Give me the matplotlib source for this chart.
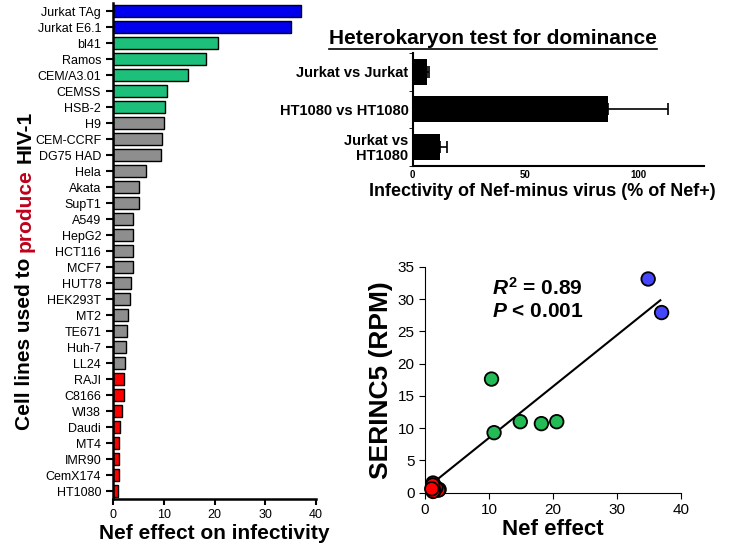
import matplotlib
matplotlib.use("Agg")
import matplotlib.pyplot as plt
from matplotlib.lines import Line2D

plt.rcParams['font.family'] = ['Liberation Sans', 'DejaVu Sans']
plt.rcParams['mathtext.fontset'] = 'custom'
plt.rcParams['mathtext.it'] = 'Liberation Sans:bold:italic'
plt.rcParams['mathtext.rm'] = 'Liberation Sans:bold'
plt.rcParams['mathtext.bf'] = 'Liberation Sans:bold'

# --- data: Nef effect per producer cell line ---
cell_lines = ['Jurkat TAg', 'Jurkat E6.1', 'bl41', 'Ramos', 'CEM/A3.01', 'CEMSS', 'HSB-2',
              'H9', 'CEM-CCRF', 'DG75 HAD', 'Hela', 'Akata', 'SupT1', 'A549', 'HepG2',
              'HCT116', 'MCF7', 'HUT78', 'HEK293T', 'MT2', 'TE671', 'Huh-7', 'LL24',
              'RAJI', 'C8166', 'WI38', 'Daudi', 'MT4', 'IMR90', 'CemX174', 'HT1080']
nef_effect = [37.0, 35.1, 20.6, 18.3, 14.8, 10.7, 10.2,
              10.0, 9.7, 9.4, 6.6, 5.1, 5.1, 4.0, 4.0,
              3.95, 3.9, 3.6, 3.4, 2.9, 2.7, 2.6, 2.4,
              2.2, 2.1, 1.7, 1.4, 1.25, 1.25, 1.2, 1.05]
groups = ['blue'] * 2 + ['green'] * 5 + ['grey'] * 16 + ['red'] * 8

# --- heterokaryon test ---
hk_labels = ['Jurkat vs Jurkat', 'HT1080 vs HT1080', 'Jurkat vs\nHT1080']
hk_values = [6.2, 86.7, 12.1]
hk_err = [1.0, 26.6, 3.0]

# --- scatter: Nef effect vs SERINC5 ---
sc_x = [34.9, 37.0, 10.4, 10.8, 14.9, 18.2, 20.6, 2.2, 2.1, 1.7, 1.4, 1.25, 1.25, 1.2, 1.05]
sc_y = [33.1, 27.9, 17.6, 9.3, 11.0, 10.7, 11.0, 0.5, 0.4, 0.8, 0.3, 1.5, 0.2, 1.2, 0.6]
sc_groups = ['blue'] * 2 + ['green'] * 5 + ['red'] * 8
fit_x = [1.15, 36.8]
fit_y = [1.45, 29.8]

bar_colors = {'blue': '#0000ee', 'green': '#1dc07a', 'grey': '#8e8e8e', 'red': '#ff0000'}
dot_colors = {'blue': '#4646ff', 'green': '#22bb55', 'red': '#ff0000'}

fig = plt.figure(figsize=(7.37, 5.56), dpi=100)

# left: horizontal bars
ax1 = fig.add_axes([0.1533, 0.1025, 0.2755, 0.892])
ypos = list(range(len(cell_lines)))
ax1.barh(ypos, nef_effect, height=0.72, color=[bar_colors[g] for g in groups],
         edgecolor='black', linewidth=1)
ax1.set_ylim(len(cell_lines) - 0.5, -0.5)
ax1.set_xlim(0, 40)
ax1.set_yticks(ypos)
ax1.set_yticklabels(cell_lines, fontsize=9)
ax1.set_xticks([0, 10, 20, 30, 40])
ax1.tick_params(axis='x', labelsize=9, length=4, width=1.5)
ax1.tick_params(axis='y', length=5, width=1.5)
for s in ['top', 'right']:
    ax1.spines[s].set_visible(False)
for s in ['left', 'bottom']:
    ax1.spines[s].set_linewidth(1.8)
ax1.set_xlabel('Nef effect on infectivity', fontsize=15, fontweight='bold', labelpad=2)

# multi-coloured y label, built from three rotated pieces
renderer = fig.canvas.get_renderer()
lx, ly = 25 / 737, 1 - 430 / 556
pieces = [('Cell lines used to', 'black'), ('produce', '#c0001a'), ('HIV-1', 'black')]
space = 0.278 * 15 * 100 / 72
for txt, col in pieces:
    t = fig.text(lx, ly, txt, rotation=90, rotation_mode='anchor', ha='left', va='center',
                 fontsize=15, fontweight='bold', color=col)
    bb = t.get_window_extent(renderer)
    ly = (bb.y1 + space) / fig.bbox.height

# top right: heterokaryon test
ax2 = fig.add_axes([0.56, 0.702, 0.395, 0.2027])
ax2.barh(range(3), hk_values, height=0.7, color='black')
ax2.errorbar(hk_values, range(3), xerr=[[0] * 3, hk_err], fmt='none', ecolor='black',
             elinewidth=1.2, capsize=4, capthick=1.2)
ax2.set_ylim(2.5, -0.5)
ax2.set_xlim(0, 129)
ax2.set_yticks(range(3))
ax2.set_yticklabels(hk_labels, fontsize=10.5, fontweight='bold', linespacing=1.05)
ax2.set_yticks([-0.5, 0.5, 1.5, 2.5], minor=True)
ax2.tick_params(axis='y', which='major', length=0, pad=3)
ax2.tick_params(axis='y', which='minor', length=3)
ax2.set_xticks([0, 50, 100])
ax2.tick_params(axis='x', labelsize=7, length=0, pad=3)
for lab in ax2.get_xticklabels():
    lab.set_fontweight('bold')
for s in ['top', 'right']:
    ax2.spines[s].set_visible(False)
for s in ['left', 'bottom']:
    ax2.spines[s].set_linewidth(1.5)
ax2.set_xlabel('Infectivity of Nef-minus virus (% of Nef+)', fontsize=13, fontweight='bold')
ax2.xaxis.set_label_coords((542 - 412.7) / 291.3, -0.15)
title = fig.text(493 / 737, 1 - 38 / 556, 'Heterokaryon test for dominance', ha='center',
                 va='center', fontsize=15, fontweight='bold')
tb = title.get_window_extent(renderer)
fig.add_artist(Line2D([tb.x0 / fig.bbox.width, tb.x1 / fig.bbox.width],
                      [(tb.y0 - 1) / fig.bbox.height] * 2, color='black', lw=1.2))

# bottom right: scatter
ax3 = fig.add_axes([0.5767, 0.1138, 0.347, 0.4065])
ax3.plot(fit_x, fit_y, color='black', lw=1.5, zorder=3)
ax3.scatter(sc_x, sc_y, s=95, c=[dot_colors[g] for g in sc_groups], edgecolors='black',
            linewidths=1.3, zorder=4, clip_on=False)
ax3.set_xlim(0, 40)
ax3.set_ylim(0, 35)
ax3.set_xticks([0, 10, 20, 30, 40])
ax3.set_yticks([0, 5, 10, 15, 20, 25, 30, 35])
ax3.tick_params(labelsize=11, length=4)
for s in ['top', 'right']:
    ax3.spines[s].set_visible(False)
ax3.set_xlabel('Nef effect', fontsize=16, fontweight='bold', labelpad=1)
ax3.set_ylabel('SERINC5 (RPM)', fontsize=19, fontweight='bold', labelpad=3)
ax3.text(10.4, 31.8, r'$R^{\rm 2}$ = 0.89', fontsize=15, fontweight='bold', va='center')
ax3.text(10.4, 28.0, r'$P$ < 0.001', fontsize=15, fontweight='bold', va='center')

fig.savefig('out.png', dpi=100)
